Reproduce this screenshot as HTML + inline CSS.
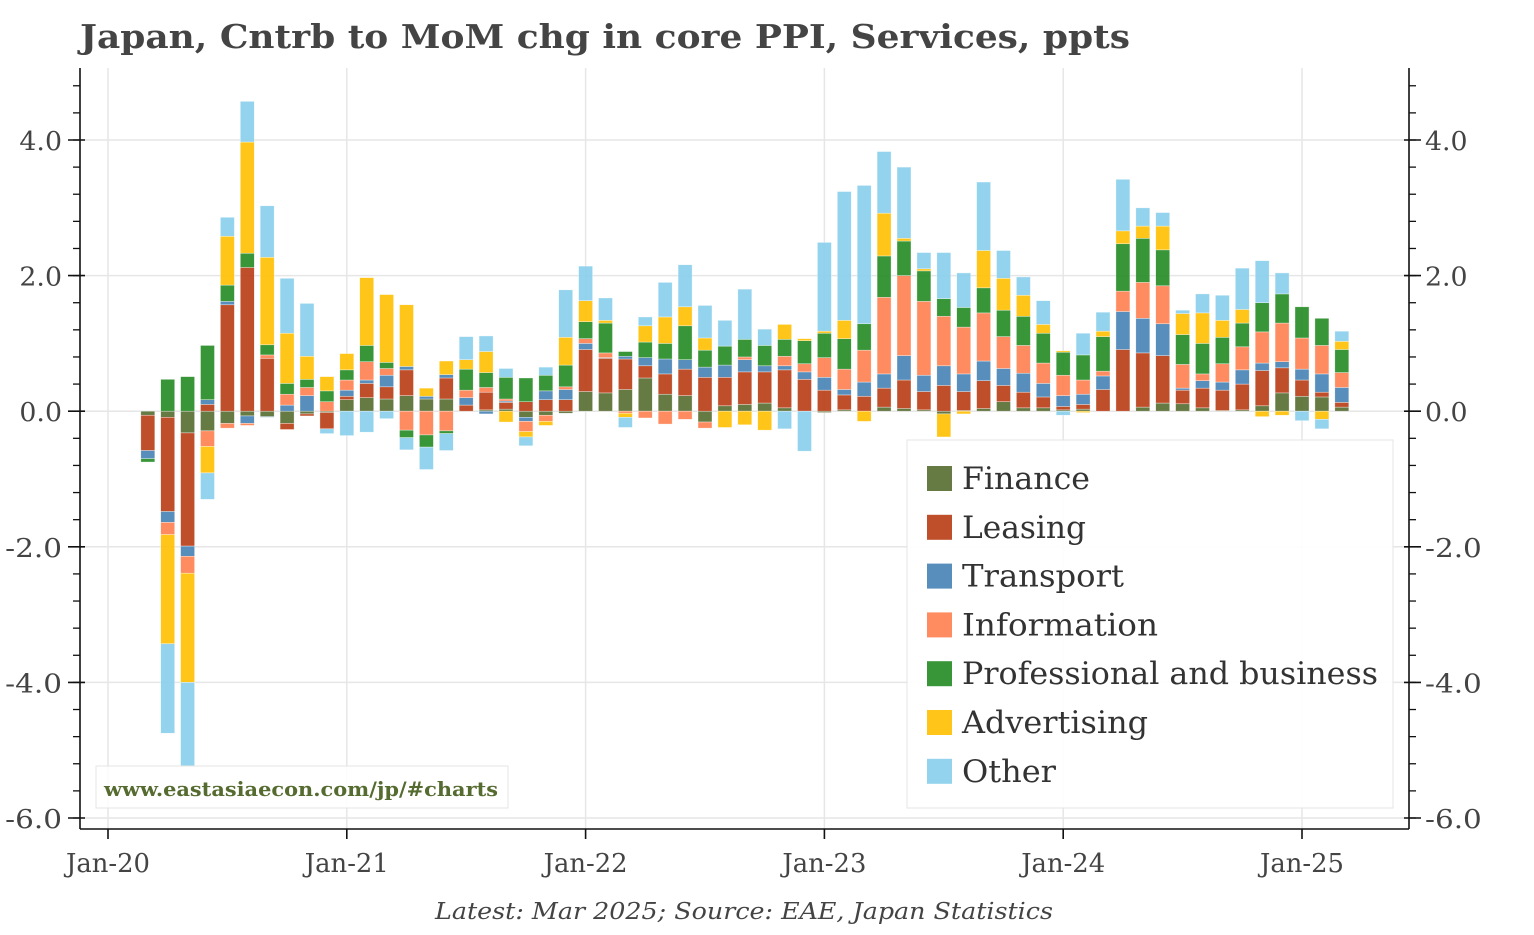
<!DOCTYPE html>
<html><head><meta charset="utf-8">
<style>
body{margin:0;background:#fff;}
svg text{font-family:"DejaVu Serif","Liberation Serif",serif;}
</style></head>
<body>
<svg id="chart" width="1534" height="930" xmlns="http://www.w3.org/2000/svg">
<text x="80" y="48" font-size="33" font-weight="bold" fill="#444" textLength="1050" lengthAdjust="spacingAndGlyphs">Japan, Cntrb to MoM chg in core PPI, Services, ppts</text>
<g id="grid"></g>
<g id="bars"></g>
<g id="axes"></g>
<g>
<rect x="96" y="766" width="412" height="42" fill="#fff" fill-opacity="0.85" stroke="#e4e4e4"/>
<text x="104" y="796" font-size="20" font-weight="bold" fill="#556b2f" textLength="394" lengthAdjust="spacingAndGlyphs">www.eastasiaecon.com/jp/#charts</text>
</g>
<g id="legend">
<rect x="907" y="440" width="486" height="368" fill="#fff" fill-opacity="0.9" stroke="#e4e4e4"/>
</g>
<text x="435" y="919" font-size="23" font-style="italic" fill="#444" textLength="618" lengthAdjust="spacingAndGlyphs">Latest: Mar 2025; Source: EAE, Japan Statistics</text>
</svg>
<script>
const seriesNames = ["Finance","Leasing","Transport","Information","Professional and business","Advertising","Other"];
const seriesColors = ["#556b2f","#b83c14","#4682b4","#ff7f50","#228b22","#ffbf00","#87ceeb"];
const legendWidths = [128,124,162,196,416,186,94];
const startMonth = 2; // Mar-20, months from Jan-20
const finance = [-0.06,-0.09,-0.32,-0.29,-0.18,-0.07,-0.08,-0.18,-0.04,-0.02, 0.17,0.2,0.18,0.23,0.18,0.18,0,0.02,0.03,-0.09,-0.06,-0.03, 0.29,0.27,0.32,0.49,0.25,0.23,-0.16,0.08,0.1,0.12,0.05,0, -0.02,0.02,0,0.06,0.04,0.02,-0.04,0.01,0.04,0.14,0.05,0.05, 0.02,0.03,0,0,0.06,0.12,0.11,0.05,0.01,0.02,0.08,0.27, 0.22,0.21,0.06];
const leasing = [-0.52,-1.39,-1.67,0.1,1.57,2.12,0.78,-0.09,-0.03,-0.24, 0.05,0.21,0.18,0.38,0,0.31,0.09,0.26,0.1,0.14,0.17,0.17, 0.62,0.51,0.45,0.18,0.3,0.39,0.5,0.42,0.48,0.46,0.56,0.47, 0.31,0.22,0.22,0.28,0.42,0.27,0.38,0.28,0.41,0.24,0.23,0.16, 0.05,0.07,0.32,0.91,0.8,0.7,0.2,0.29,0.3,0.38,0.52,0.37, 0.24,0.07,0.07];
const transport = [-0.12,-0.16,-0.15,0.07,0.05,-0.11,-0.01,0.09,0.23,0, 0.09,0.05,0.17,0.05,0.04,0.05,0.11,-0.04,0.02,-0.06,0.13,0.15, 0.09,0.01,0.04,0.12,0.22,0.14,0.15,0.18,0.18,0.09,0.06,0.11, 0.19,0.08,0.21,0.21,0.36,0.24,0.29,0.26,0.29,0.25,0.28,0.2, 0.16,0.15,0.2,0.56,0.51,0.47,0.03,0.11,0.12,0.21,0.11,0.09, 0.16,0.27,0.22];
const information = [0,-0.18,-0.25,-0.23,-0.07,-0.03,0.05,0.16,0.12,0.14, 0.15,0.27,0.1,-0.28,-0.35,-0.29,0.11,0.07,0.03,-0.15,-0.09,0.04, 0.07,0.07,-0.03,-0.1,-0.19,-0.12,-0.09,0,0.04,0,0.14,0.12, 0.29,0.3,0.47,1.13,1.18,1.09,0.73,0.69,0.71,0.47,0.41,0.3, 0.3,0.21,0.07,0.3,0.53,0.56,0.35,0.1,0.27,0.34,0.46,0.57, 0.46,0.42,0.22];
const professional = [-0.05,0.47,0.51,0.8,0.24,0.21,0.15,0.16,0.12,0.16, 0.15,0.24,0.09,-0.11,-0.18,-0.04,0.31,0.22,0.32,0.35,0.23,0.32, 0.25,0.44,0.07,0.23,0.23,0.5,0.25,0.28,0.26,0.3,0.25,0.34, 0.36,0.45,0.39,0.61,0.51,0.45,0.26,0.29,0.37,0.39,0.43,0.44, 0.34,0.37,0.51,0.7,0.65,0.53,0.44,0.45,0.39,0.35,0.43,0.43, 0.46,0.4,0.34];
const advertising = [0,-1.61,-1.61,-0.39,0.72,1.64,1.29,0.74,0.34,0.21, 0.24,1.0,1.0,0.91,0.12,0.2,0.14,0.31,-0.16,-0.08,-0.06,0.41, 0.31,0.04,-0.06,0.24,0.39,0.28,0.18,-0.24,-0.2,-0.28,0.22,0.03, 0.03,0.27,-0.15,0.63,0.04,0.03,-0.34,-0.04,0.55,0.47,0.31,0.13, 0.02,-0.02,0.08,0.19,0.18,0.35,0.31,0.45,0.25,0.2,-0.08,-0.06, 0,-0.12,0.12];
const other = [0,-1.32,-1.24,-0.39,0.28,0.6,0.76,0.81,0.78,-0.07, -0.36,-0.31,-0.11,-0.18,-0.33,-0.25,0.34,0.23,0.13,-0.13,0.12,0.7, 0.51,0.33,-0.15,0.13,0.51,0.62,0.48,0.38,0.74,0.24,-0.26,-0.59, 1.31,1.9,2.04,0.91,1.05,0.24,0.68,0.51,1.01,0.41,0.27,0.35, -0.06,0.32,0.28,0.76,0.27,0.2,0.05,0.28,0.37,0.61,0.62,0.31, -0.14,-0.14,0.15];
const yTicks = [-6,-4,-2,0,2,4];
const yTickLabels = ["-6.0","-4.0","-2.0","0.0","2.0","4.0"];
const xTickMonths = [0,12,24,36,48,60];
const xTickLabels = ["Jan-20","Jan-21","Jan-22","Jan-23","Jan-24","Jan-25"];

const series = [finance,leasing,transport,information,professional,advertising,other];
const NS="http://www.w3.org/2000/svg";
const L=80,R=1409,T=68,B=829;
function y(v){return 411.2 - v*67.8;}
function x(m){return 108 + m*19.9;}
function mk(tag,attrs,parent){const e=document.createElementNS(NS,tag);for(const k in attrs)e.setAttribute(k,attrs[k]);parent.appendChild(e);return e;}
const grid=document.getElementById('grid'),bars=document.getElementById('bars'),axes=document.getElementById('axes'),legend=document.getElementById('legend');
yTicks.forEach(v=>{const g=mk('line',{x1:L,x2:R,y1:y(v),y2:y(v),stroke:'#e6e6e6','stroke-width':1.5},grid);

});
xTickMonths.forEach(m=>{const g=mk('line',{x1:x(m),x2:x(m),y1:T,y2:B,stroke:'#e6e6e6','stroke-width':1.5},grid);

});
const n=finance.length;
for(let i=0;i<n;i++){
  let pos=0,neg=0;const cx=x(startMonth+i);
  for(let s=0;s<series.length;s++){
    const v=series[s][i];if(!v)continue;
    let y0,y1;
    if(v>0){y0=pos;pos+=v;y1=pos;}else{y0=neg;neg+=v;y1=neg;}
    const r=mk('rect',{x:cx-7,y:Math.min(y(y0),y(y1)),width:14,height:Math.abs(y(y1)-y(y0)),fill:seriesColors[s],'fill-opacity':0.9,stroke:'#fff','stroke-width':0.6,'stroke-opacity':0.6},bars);
    
    
  }
}
mk('line',{x1:L,x2:L,y1:T,y2:B,stroke:'#111','stroke-width':1.6},axes);
mk('line',{x1:R,x2:R,y1:T,y2:B,stroke:'#111','stroke-width':1.6},axes);
mk('line',{x1:L,x2:R,y1:B,y2:B,stroke:'#111','stroke-width':1.6},axes);
for(let v=-6;v<=5;v+=0.4){const yy=y(v);if(yy<T||yy>B)continue;
  mk('line',{x1:L-7,x2:L,y1:yy,y2:yy,stroke:'#111','stroke-width':1.3},axes);
  mk('line',{x1:R,x2:R+7,y1:yy,y2:yy,stroke:'#111','stroke-width':1.3},axes);}
yTicks.forEach((v,i)=>{const yy=y(v);
  mk('line',{x1:L-12,x2:L+5,y1:yy,y2:yy,stroke:'#111','stroke-width':1.6},axes);
  mk('line',{x1:R-5,x2:R+12,y1:yy,y2:yy,stroke:'#111','stroke-width':1.6},axes);
  const w=yTickLabels[i].length*14.2;
  const t1=mk('text',{x:L-18-w,y:yy+10,'font-size':26,fill:'#444',textLength:w,lengthAdjust:'spacingAndGlyphs'},axes);t1.textContent=yTickLabels[i];
  
  
  const t2=mk('text',{x:R+16,y:yy+10,'font-size':26,fill:'#444',textLength:w,lengthAdjust:'spacingAndGlyphs'},axes);t2.textContent=yTickLabels[i];
  
  });
xTickMonths.forEach((m,i)=>{const xx=x(m);
  mk('line',{x1:xx,x2:xx,y1:B,y2:B+10,stroke:'#111','stroke-width':1.6},axes);
  const t=mk('text',{x:xx-42,y:872,'font-size':26,fill:'#444',textLength:84,lengthAdjust:'spacingAndGlyphs'},axes);t.textContent=xTickLabels[i];
  
  });
seriesNames.forEach((nm,i)=>{const yy=478+i*48.8;
  const g=mk('g',{},legend);
  
  
  mk('rect',{x:927,y:yy-12,width:25,height:25,fill:seriesColors[i],'fill-opacity':0.9},g);
  const t=mk('text',{x:962,y:yy+11,'font-size':31,fill:'#333',textLength:legendWidths[i],lengthAdjust:'spacingAndGlyphs'},g);t.textContent=nm;});
</script>
</body></html>
